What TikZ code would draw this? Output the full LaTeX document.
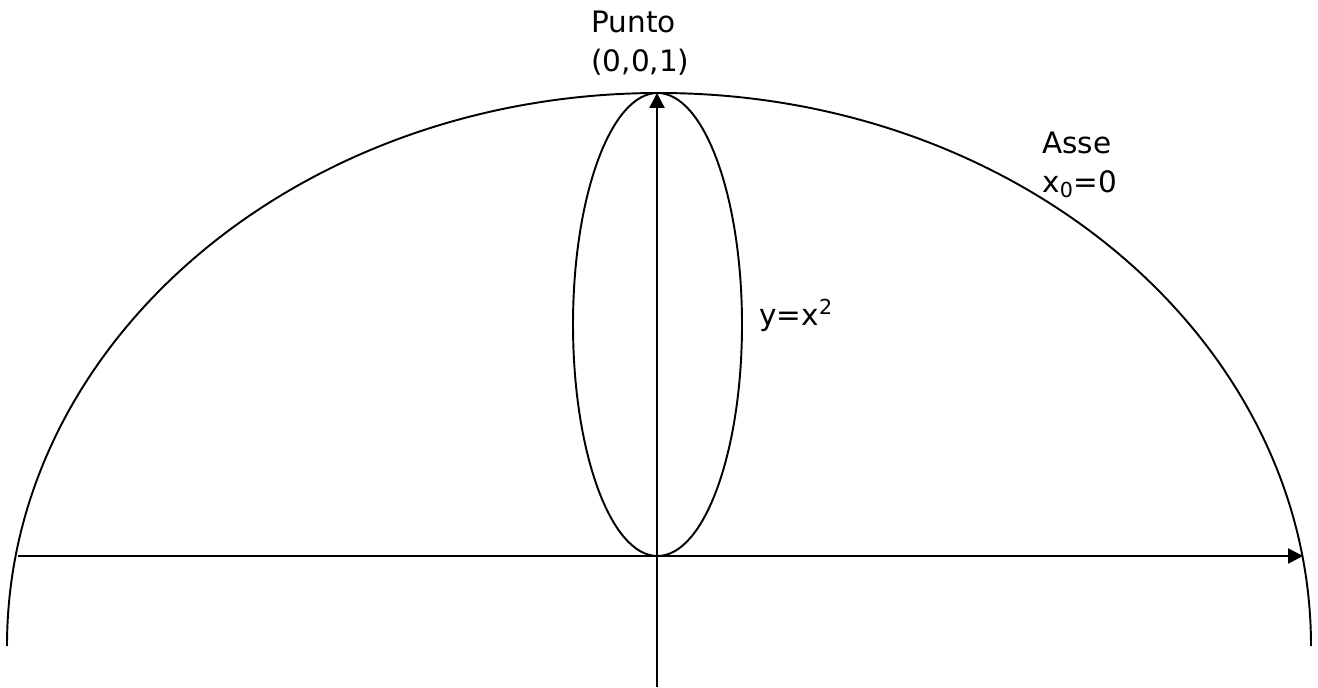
\documentclass[tikz,border=0pt]{standalone}
\usepackage{fontspec}
\setmainfont{DejaVu Sans}
\usetikzlibrary{arrows.meta,positioning}

\tikzset{
  ax/.style={line width=1.4pt, -{Triangle[length=0.3cm, width=0.3cm]}},
  crv/.style={line width=1.1pt},
  lbl/.style={inner sep=0pt, anchor=base west, align=left,
    font=\fontsize{16.8}{22.5}\selectfont}
}

\begin{document}
\begin{tikzpicture}[x=0.02cm, y=0.02cm]
        \useasboundingbox (0,0) rectangle (1318,687);
        \coordinate (O) at (657,131);
        \coordinate (top) at (657,594);
        \coordinate (bot) at (657,0);
        \coordinate (left) at (18,131);
        \coordinate (right) at (1303,131);
        \coordinate (arcL) at (7,41);
        \draw[crv] (arcL) arc[start angle=180, end angle=0,
          x radius=652, y radius=553];
        \draw[crv] (657.5,362.5) ellipse[x radius=84.5, y radius=231.5];
        \draw[ax] (bot) -- (top);
        \draw[ax] (left) -- (right);
        \node[lbl] (punto) at (591,615) {Punto\\(0,0,1)};
        \node[lbl] (asse) at (1042,494) {Asse\\x\textsubscript{0}=0};
        \node[lbl] (parab) at (759,361) {y=x\textsuperscript{2}};
      \end{tikzpicture}
\end{document}
